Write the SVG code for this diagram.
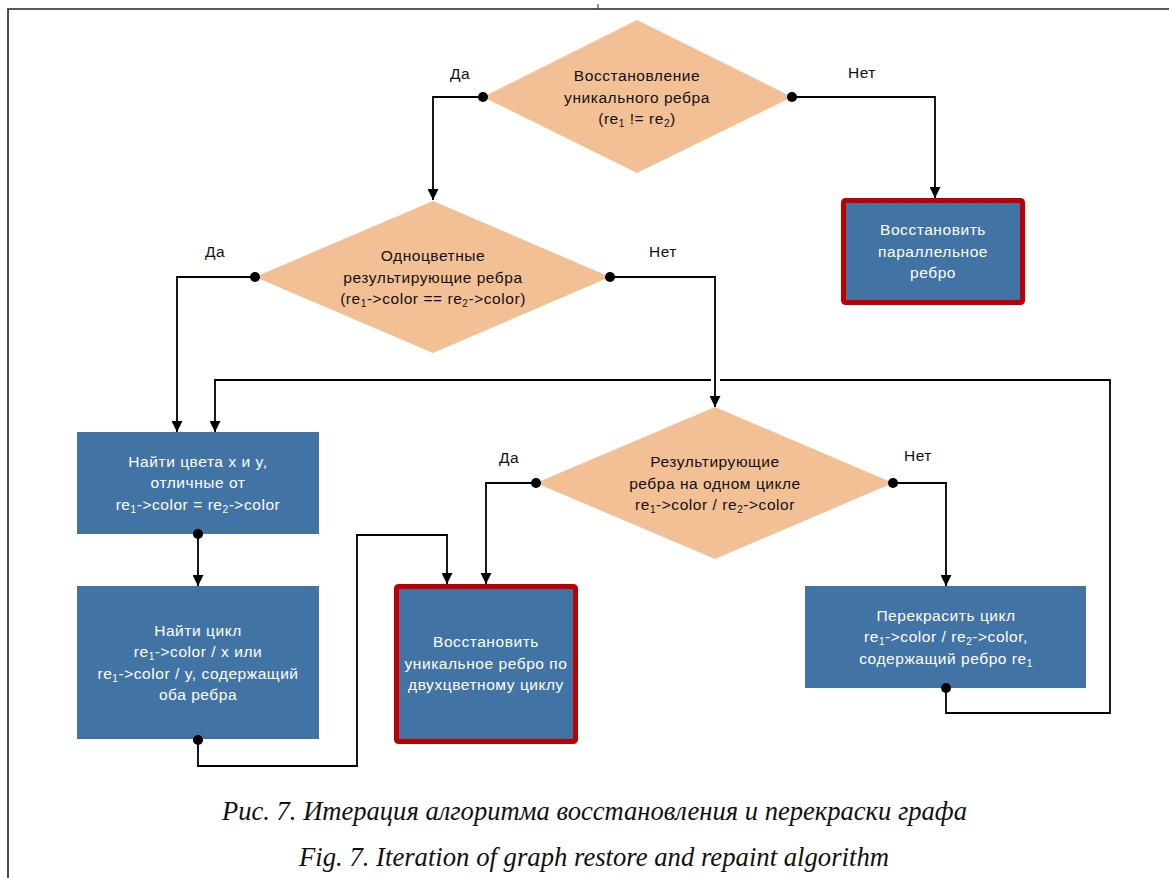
<svg xmlns="http://www.w3.org/2000/svg" width="1169" height="878" viewBox="0 0 1169 878">
<defs>
<marker id="arr" markerUnits="userSpaceOnUse" markerWidth="11" markerHeight="11" refX="11" refY="5.5" orient="auto">
<path d="M0,0 L11,5.5 L0,11 z" fill="#000"/>
</marker>
<style>
.bg{fill:#fff}
.frame{fill:none;stroke:#222;stroke-width:1.6}
.dia{fill:#F3C096;stroke:none}
.box{fill:#4173A5;stroke:none}
.rbox{fill:#4173A5;stroke:#C00000;stroke-width:5}
.t{font-family:"Liberation Sans",Arial,sans-serif;font-size:15.5px;letter-spacing:0.55px;text-anchor:middle}
.dk{fill:#111}
.wt{fill:#fff}
.sub{font-size:10px;baseline-shift:-2.5px}
.conn{fill:none;stroke:#000;stroke-width:1.8}
.dot{fill:#000}
.cap{font-family:"Liberation Serif","Times New Roman",serif;font-style:italic;font-size:28px;fill:#111;text-anchor:middle}
</style>
</defs>
<rect class="bg" x="0" y="0" width="1169" height="878"/>
<path class="frame" d="M8,878 L8,9 L1169,9"/>
<line x1="598" y1="4" x2="598" y2="9" stroke="#222" stroke-width="1"/>

<g id="d1">
<polygon class="dia" points="637,20 792,97 637,173 483,97"/>
<text class="t dk" x="637" y="81">Восстановление</text>
<text class="t dk" x="637" y="102.5">уникального ребра</text>
<text class="t dk" x="637" y="124">(re<tspan class="sub">1</tspan> != re<tspan class="sub">2</tspan>)</text>
</g>

<g id="b1">
<rect class="rbox" x="843.5" y="200.5" width="179" height="102" rx="2"/>
<text class="t wt" x="933" y="235">Восстановить</text>
<text class="t wt" x="933" y="256.5">параллельное</text>
<text class="t wt" x="933" y="278">ребро</text>
</g>

<g id="d2">
<polygon class="dia" points="433,201 610,277 433,353 255,277"/>
<text class="t dk" x="433" y="261">Одноцветные</text>
<text class="t dk" x="433" y="282.5">результирующие ребра</text>
<text class="t dk" x="433" y="304">(re<tspan class="sub">1</tspan>-&gt;color == re<tspan class="sub">2</tspan>-&gt;color)</text>
</g>

<g id="bA">
<rect class="box" x="77" y="432" width="242" height="102"/>
<text class="t wt" x="198" y="466.5">Найти цвета x и y,</text>
<text class="t wt" x="198" y="488">отличные от</text>
<text class="t wt" x="198" y="509.5">re<tspan class="sub">1</tspan>-&gt;color = re<tspan class="sub">2</tspan>-&gt;color</text>
</g>

<g id="bB">
<rect class="box" x="77" y="586" width="242" height="153"/>
<text class="t wt" x="198" y="635.5">Найти цикл</text>
<text class="t wt" x="198" y="657">re<tspan class="sub">1</tspan>-&gt;color / x или</text>
<text class="t wt" x="198" y="678.5">re<tspan class="sub">1</tspan>-&gt;color / y, содержащий</text>
<text class="t wt" x="198" y="700">оба ребра</text>
</g>

<g id="d3">
<polygon class="dia" points="715,407 893,483 715,559 536,483"/>
<text class="t dk" x="715" y="467">Результирующие</text>
<text class="t dk" x="715" y="488.5">ребра на одном цикле</text>
<text class="t dk" x="715" y="510">re<tspan class="sub">1</tspan>-&gt;color / re<tspan class="sub">2</tspan>-&gt;color</text>
</g>

<g id="bC">
<rect class="rbox" x="396.5" y="586.5" width="179" height="155" rx="2"/>
<text class="t wt" x="486" y="647">Восстановить</text>
<text class="t wt" x="486" y="668.5">уникальное ребро по</text>
<text class="t wt" x="486" y="690">двухцветному циклу</text>
</g>

<g id="bD">
<rect class="box" x="805" y="586" width="281" height="102"/>
<text class="t wt" x="946" y="620.5">Перекрасить цикл</text>
<text class="t wt" x="946" y="642">re<tspan class="sub">1</tspan>-&gt;color / re<tspan class="sub">2</tspan>-&gt;color,</text>
<text class="t wt" x="946" y="663.5">содержащий ребро re<tspan class="sub">1</tspan></text>
</g>

<g id="connectors">
<path class="conn" d="M483,97 L433,97 L433,200" marker-end="url(#arr)"/>
<path class="conn" d="M792,97 L935,97 L935,198" marker-end="url(#arr)"/>
<path class="conn" d="M255,277 L177,277 L177,432" marker-end="url(#arr)"/>
<path class="conn" d="M610,277 L715,277 L715,407" marker-end="url(#arr)"/>
<path class="conn" d="M946,688 L946,713 L1110,713 L1110,380 L720,380"/>
<path class="conn" d="M711,380 L215,380 L215,432" marker-end="url(#arr)"/>
<path class="conn" d="M198,534 L198,586" marker-end="url(#arr)"/>
<path class="conn" d="M198,740 L198,766 L357,766 L357,535 L447,535 L447,584" marker-end="url(#arr)"/>
<path class="conn" d="M536,483 L486,483 L486,584" marker-end="url(#arr)"/>
<path class="conn" d="M893,483 L946,483 L946,586" marker-end="url(#arr)"/>
<circle class="dot" cx="483" cy="97" r="5"/>
<circle class="dot" cx="792" cy="97" r="5"/>
<circle class="dot" cx="255" cy="277" r="5"/>
<circle class="dot" cx="610" cy="277" r="5"/>
<circle class="dot" cx="536" cy="483" r="5"/>
<circle class="dot" cx="893" cy="483" r="5"/>
<circle class="dot" cx="198" cy="534" r="5"/>
<circle class="dot" cx="198" cy="740" r="5"/>
<circle class="dot" cx="946" cy="688" r="5"/>
<text class="t dk" x="460" y="79">Да</text>
<text class="t dk" x="862" y="78">Нет</text>
<text class="t dk" x="215" y="257">Да</text>
<text class="t dk" x="663" y="257">Нет</text>
<text class="t dk" x="509" y="463">Да</text>
<text class="t dk" x="918" y="461">Нет</text>
</g>

<g id="captions">
<text class="cap" x="594.5" y="820" textLength="745" lengthAdjust="spacingAndGlyphs">Рис. 7. Итерация алгоритма восстановления и перекраски графа</text>
<text class="cap" x="594" y="866" textLength="590" lengthAdjust="spacingAndGlyphs">Fig. 7. Iteration of graph restore and repaint algorithm</text>
</g>
</svg>
